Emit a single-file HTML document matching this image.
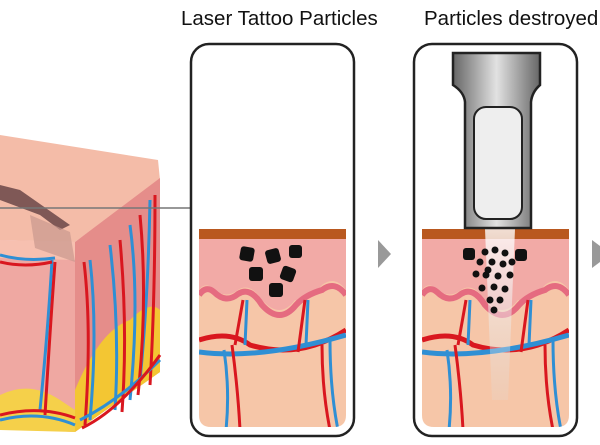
<!DOCTYPE html>
<html><head><meta charset="utf-8"><style>
html,body{margin:0;padding:0;background:#fff;width:600px;height:445px;overflow:hidden}
svg{display:block}
text{font-family:"Liberation Sans",sans-serif;font-size:20.5px;fill:#111}
</style></head><body>
<svg width="600" height="445" viewBox="0 0 600 445">
<defs>
<clipPath id="c1"><path d="M199 229 H346 V415 Q346 427 334 427 H211 Q199 427 199 415 Z"/></clipPath>
<clipPath id="c2"><path d="M422 229 H569 V415 Q569 427 557 427 H434 Q422 427 422 415 Z"/></clipPath>
<linearGradient id="hp" x1="0" x2="1"><stop offset="0" stop-color="#666"/><stop offset=".5" stop-color="#e2e2e2"/><stop offset="1" stop-color="#666"/></linearGradient>
<linearGradient id="beam" x1="0" y1="0" x2="0" y2="1"><stop offset="0" stop-color="#fff" stop-opacity=".8"/><stop offset="1" stop-color="#ddd" stop-opacity=".2"/></linearGradient>
</defs>

<text x="181" y="25">Laser Tattoo Particles</text>
<text x="424" y="25">Particles destroyed</text>

<!-- left cube -->
<path d="M0 135 L158 160 L160 180 L75 242 L0 240 Z" fill="#f4bca8"/>
<path d="M75 242 L160 178 L160 372 L75 432 Z" fill="#e58d8a"/>
<path d="M0 240 L75 242 L75 432 L0 428 Z" fill="#efa8a2"/>
<path d="M0 240 L75 242 L75 260 L0 258 Z" fill="#f7c0b0"/>
<path d="M0 395 Q30 380 60 400 L75 410 L75 432 L0 430 Z" fill="#f5d04a"/>
<path d="M75 390 Q100 330 130 320 Q150 300 160 310 L160 372 L75 432 Z" fill="#f3c633"/>
<path d="M0 200 L40 215 L60 230 L70 225 L20 190 L0 185 Z" fill="#6a4748" opacity=".85"/>
<path d="M30 215 L70 232 L75 262 L35 248 Z" fill="#c9998f" opacity=".7"/>
<g fill="none" stroke-width="3">
<path d="M0 255 Q25 262 55 258 M52 260 Q48 330 40 410 M90 260 Q98 330 90 420 M110 245 Q120 330 115 410 M130 225 Q140 300 130 400 M150 200 Q148 300 140 380" stroke="#2f8fd4"/>
<path d="M0 262 Q25 268 52 262 M55 262 Q50 330 45 415 M84 262 Q92 330 85 425 M120 240 Q128 330 122 412 M140 215 Q148 300 138 395 M155 195 Q155 300 150 385" stroke="#d9171f"/>
<path d="M0 420 Q40 410 75 425 M80 420 Q120 400 160 360" stroke="#2f8fd4"/>
<path d="M0 415 Q40 405 75 418 M82 428 Q120 410 160 355" stroke="#d9171f"/>
</g>
<line x1="0" y1="208" x2="190" y2="208" stroke="#777" stroke-width="1.5"/>

<!-- panel 1 -->
<g clip-path="url(#c1)">
<rect x="199" y="229" width="147" height="200" fill="#f6c6a8"/>
<rect x="199" y="229" width="147" height="10" fill="#b9581f"/>
<path d="M199 239 H346 V290 Q335 275 322 285 Q305 305 295 300 Q280 320 262 300 Q250 282 238 290 Q225 300 212 288 Q205 282 199 290 Z" fill="#f2aaa6"/>
<path d="M199 295 Q206 285 214 292 Q226 304 238 294 Q250 286 262 305 Q280 325 296 305 Q305 295 322 290 Q335 280 346 295" fill="none" stroke="#e56b80" stroke-width="6"/>
<path d="M199 340 Q230 330 250 345 Q300 360 346 330" fill="none" stroke="#d9171f" stroke-width="5"/>
<path d="M199 352 Q260 360 346 335" fill="none" stroke="#2f8fd4" stroke-width="5"/>
<path d="M224 350 Q230 390 226 430 M330 340 Q330 390 338 430 M245 345 L247 300 M306 345 L308 300" fill="none" stroke="#2f8fd4" stroke-width="3"/>
<path d="M232 345 Q238 390 240 430 M322 345 Q322 390 330 430 M235 345 L243 300 M298 352 L305 300" fill="none" stroke="#d9171f" stroke-width="3"/>
<g fill="#111"><rect x="240" y="247" width="14" height="14" rx="3" transform="rotate(10 247 254)"/><rect x="266" y="249" width="14" height="14" rx="3" transform="rotate(-15 273 256)"/><rect x="289" y="245" width="13" height="13" rx="3"/><rect x="249" y="267" width="14" height="14" rx="3"/><rect x="281" y="267" width="14" height="14" rx="3" transform="rotate(20 288 274)"/><rect x="269" y="283" width="14" height="14" rx="3"/></g>
</g>
<rect x="191" y="44" width="163" height="392" rx="18" fill="none" stroke="#222" stroke-width="2.5"/>

<path d="M378 240 L391 254 L378 268 Z" fill="#999"/>

<!-- panel 2 -->
<g clip-path="url(#c2)">
<rect x="422" y="229" width="147" height="200" fill="#f6c6a8"/>
<rect x="422" y="229" width="147" height="10" fill="#b9581f"/>
<path d="M422 239 H569 V290 Q558 275 545 285 Q528 305 518 300 Q503 320 485 300 Q473 282 461 290 Q448 300 435 288 Q428 282 422 290 Z" fill="#f2aaa6"/>
<path d="M422 295 Q429 285 437 292 Q449 304 461 294 Q473 286 485 305 Q503 325 519 305 Q528 295 545 290 Q558 280 569 295" fill="none" stroke="#e56b80" stroke-width="6"/>
<path d="M422 340 Q453 330 473 345 Q523 360 569 330" fill="none" stroke="#d9171f" stroke-width="5"/>
<path d="M422 352 Q483 360 569 335" fill="none" stroke="#2f8fd4" stroke-width="5"/>
<path d="M447 350 Q453 390 449 430 M553 340 Q553 390 561 430 M468 345 L470 300 M529 345 L531 300" fill="none" stroke="#2f8fd4" stroke-width="3"/>
<path d="M455 345 Q461 390 463 430 M545 345 Q545 390 553 430 M458 345 L466 300 M521 352 L528 300" fill="none" stroke="#d9171f" stroke-width="3"/>
<path d="M485 229 H515 L508 400 H492 Z" fill="url(#beam)"/>
<g fill="#111"><rect x="463" y="248" width="12" height="12" rx="3"/><rect x="515" y="249" width="12" height="12" rx="3"/>
<circle cx="485" cy="252" r="3.5"/><circle cx="495" cy="250" r="3.5"/><circle cx="505" cy="253" r="3.5"/><circle cx="480" cy="262" r="3.5"/><circle cx="492" cy="262" r="3.5"/><circle cx="503" cy="264" r="3.5"/><circle cx="512" cy="262" r="3.5"/><circle cx="476" cy="274" r="3.5"/><circle cx="486" cy="275" r="3.5"/><circle cx="498" cy="276" r="3.5"/><circle cx="510" cy="275" r="3.5"/><circle cx="482" cy="288" r="3.5"/><circle cx="494" cy="287" r="3.5"/><circle cx="505" cy="289" r="3.5"/><circle cx="490" cy="300" r="3.5"/><circle cx="500" cy="300" r="3.5"/><circle cx="494" cy="310" r="3.5"/><circle cx="488" cy="270" r="3.5"/></g>
</g>
<rect x="414" y="44" width="163" height="392" rx="18" fill="none" stroke="#222" stroke-width="2.5"/>
<!-- handpiece -->
<path d="M453 53 H540 V85 Q532 92 531 102 V228 H465 V102 Q464 92 453 85 Z" fill="url(#hp)" stroke="#222" stroke-width="2.5"/>
<rect x="474" y="107" width="48" height="112" rx="12" fill="#eee" stroke="#222" stroke-width="2"/>
<path d="M592 240 L600 246 V262 L592 268 Z" fill="#999"/>
</svg>
</body></html>
